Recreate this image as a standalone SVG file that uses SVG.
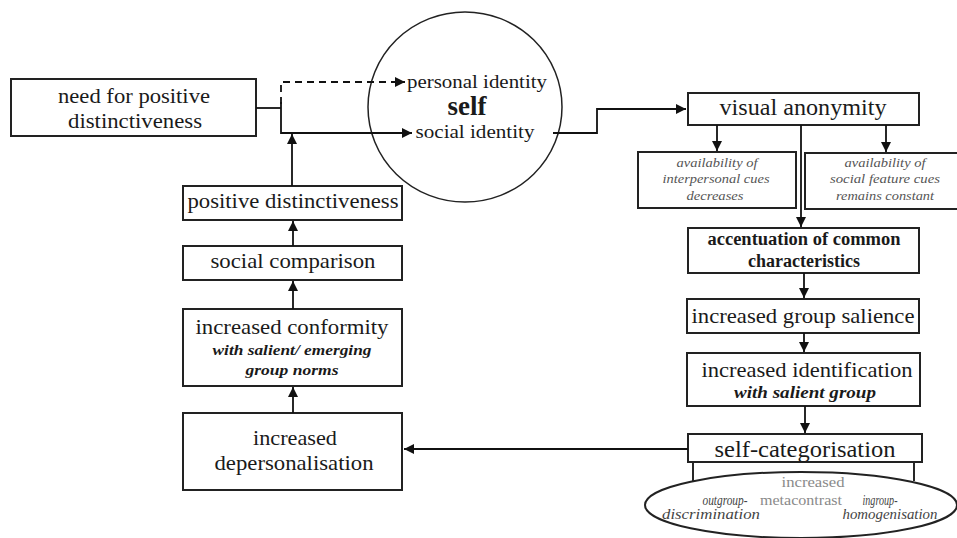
<svg xmlns="http://www.w3.org/2000/svg" width="957" height="538" viewBox="0 0 957 538">
<defs>
<marker id="ah" viewBox="0 0 10 10" refX="10" refY="5" markerWidth="10" markerHeight="10" markerUnits="userSpaceOnUse" orient="auto">
<path d="M0,0 L10,5 L0,10 z" fill="#111"/>
</marker>
<style>
text{font-family:Liberation Serif,DejaVu Serif,Noto Serif,Times,serif}
.box{fill:#fff;stroke:#222;stroke-width:2}
.ell{fill:#fff;stroke:#222;stroke-width:1.5}
.t{fill:#1a1a1a;text-anchor:middle}
.b{font-weight:bold}
.bi{font-weight:bold;font-style:italic}
.sm{font-style:italic;fill:#555;font-size:13px;text-anchor:middle}
.gr{fill:#8a8a8a;font-size:15px;text-anchor:middle}
.c{fill:none;stroke:#111;stroke-width:1.8}
.d{fill:none;stroke:#111;stroke-width:1.8;stroke-dasharray:7,5}
</style>
</defs>
<rect width="957" height="538" fill="#fff"/>

<g id="self">
<ellipse class="ell" cx="465" cy="107" rx="97" ry="95"/>
<text class="t" x="477" y="88" font-size="19" textLength="140" lengthAdjust="spacingAndGlyphs">personal identity</text>
<text class="t b" x="467" y="115" font-size="27">self</text>
<text class="t" x="475" y="138" font-size="19" textLength="119" lengthAdjust="spacingAndGlyphs">social identity</text>
</g>

<g id="need">
<rect class="box" x="11" y="79" width="245" height="57"/>
<text class="t" x="134" y="103" font-size="20" textLength="152" lengthAdjust="spacingAndGlyphs">need for positive</text>
<text class="t" x="135" y="128" font-size="20" textLength="134" lengthAdjust="spacingAndGlyphs">distinctiveness</text>
</g>

<g id="posdist">
<rect class="box" x="183" y="186" width="219" height="34"/>
<text class="t" x="293" y="208" font-size="21" textLength="211" lengthAdjust="spacingAndGlyphs">positive distinctiveness</text>
</g>

<g id="socomp">
<rect class="box" x="183" y="246" width="219" height="34"/>
<text class="t" x="293" y="268" font-size="21" textLength="165" lengthAdjust="spacingAndGlyphs">social comparison</text>
</g>

<g id="conformity">
<rect class="box" x="183" y="309" width="219" height="77"/>
<text class="t" x="292" y="334" font-size="21" textLength="193" lengthAdjust="spacingAndGlyphs">increased conformity</text>
<text class="t bi" x="292" y="355" font-size="15" textLength="159" lengthAdjust="spacingAndGlyphs">with salient/ emerging</text>
<text class="t bi" x="292" y="375" font-size="15" textLength="93" lengthAdjust="spacingAndGlyphs">group norms</text>
</g>

<g id="deperson">
<rect class="box" x="183" y="413" width="219" height="77"/>
<text class="t" x="295" y="445" font-size="21" textLength="84" lengthAdjust="spacingAndGlyphs">increased</text>
<text class="t" x="294" y="470" font-size="21" textLength="159" lengthAdjust="spacingAndGlyphs">depersonalisation</text>
</g>

<g id="visanon">
<rect class="box" x="688" y="93" width="231" height="32"/>
<text class="t" x="803" y="115" font-size="24" textLength="167" lengthAdjust="spacingAndGlyphs">visual anonymity</text>
</g>

<g id="interpersonal">
<rect class="box" x="638" y="152" width="158" height="56"/>
<text class="sm" x="717" y="167" textLength="81" lengthAdjust="spacingAndGlyphs">availability of</text>
<text class="sm" x="716" y="183" textLength="107" lengthAdjust="spacingAndGlyphs">interpersonal cues</text>
<text class="sm" x="715" y="200" textLength="57" lengthAdjust="spacingAndGlyphs">decreases</text>
</g>

<g id="socialfeature">
<rect class="box" x="805" y="153" width="160" height="56"/>
<text class="sm" x="885" y="167" textLength="81" lengthAdjust="spacingAndGlyphs">availability of</text>
<text class="sm" x="885" y="183" textLength="110" lengthAdjust="spacingAndGlyphs">social feature cues</text>
<text class="sm" x="885" y="200" textLength="98" lengthAdjust="spacingAndGlyphs">remains constant</text>
</g>

<g id="accent">
<rect class="box" x="688" y="228" width="231" height="45"/>
<text class="t b" x="804" y="245" font-size="18" textLength="193" lengthAdjust="spacingAndGlyphs">accentuation of common</text>
<text class="t b" x="804" y="267" font-size="18" textLength="112" lengthAdjust="spacingAndGlyphs">characteristics</text>
</g>

<g id="salience">
<rect class="box" x="687" y="299" width="232" height="34"/>
<text class="t" x="803" y="323" font-size="21" textLength="223" lengthAdjust="spacingAndGlyphs">increased group salience</text>
</g>

<g id="identification">
<rect class="box" x="687" y="353" width="233" height="53"/>
<text class="t" x="807" y="377" font-size="21" textLength="211" lengthAdjust="spacingAndGlyphs">increased identification</text>
<text class="t bi" x="805" y="398" font-size="16" textLength="142" lengthAdjust="spacingAndGlyphs">with salient group</text>
</g>

<g id="selfcat">
<path class="c" d="M693,462 V481 M914,462 V481"/>
<ellipse cx="801" cy="505" rx="156" ry="33" fill="#fff" stroke="#222" stroke-width="2"/>
<rect class="box" x="688" y="434" width="234" height="28"/>
<text class="t" x="805" y="457" font-size="24" textLength="181" lengthAdjust="spacingAndGlyphs">self-categorisation</text>
<text class="gr" x="813" y="487" textLength="63" lengthAdjust="spacingAndGlyphs">increased</text>
<text class="gr" x="801" y="505" textLength="82" lengthAdjust="spacingAndGlyphs">metacontrast</text>
<text class="sm" x="725" y="505" style="fill:#444;font-size:14px" textLength="45" lengthAdjust="spacingAndGlyphs">outgroup-</text>
<text class="sm" x="711" y="519" style="fill:#444;font-size:14px" textLength="98" lengthAdjust="spacingAndGlyphs">discrimination</text>
<text class="sm" x="880" y="505" style="fill:#444;font-size:14px" textLength="35" lengthAdjust="spacingAndGlyphs">ingroup-</text>
<text class="sm" x="890" y="519" style="fill:#444;font-size:14px" textLength="95" lengthAdjust="spacingAndGlyphs">homogenisation</text>
</g>

<g id="connectors">
<path class="c" d="M256,108 H281"/>
<path class="d" d="M281,104 V82 H405" marker-end="url(#ah)"/>
<path class="c" d="M281,102 V133 H412" marker-end="url(#ah)"/>
<path class="c" d="M292,186 V134" marker-end="url(#ah)"/>
<path class="c" d="M293,246 V221" marker-end="url(#ah)"/>
<path class="c" d="M293,309 V281" marker-end="url(#ah)"/>
<path class="c" d="M293,413 V387" marker-end="url(#ah)"/>
<path class="c" d="M553,133 H597 V109 H686" marker-end="url(#ah)"/>
<path class="c" d="M717,125 V151" marker-end="url(#ah)"/>
<path class="c" d="M886,125 V152" marker-end="url(#ah)"/>
<path class="c" d="M801,125 V227" marker-end="url(#ah)"/>
<path class="c" d="M804,273 V298" marker-end="url(#ah)"/>
<path class="c" d="M804,333 V352" marker-end="url(#ah)"/>
<path class="c" d="M805,406 V433" marker-end="url(#ah)"/>
<path class="c" d="M688,449 H404" marker-end="url(#ah)"/>
</g>
</svg>
